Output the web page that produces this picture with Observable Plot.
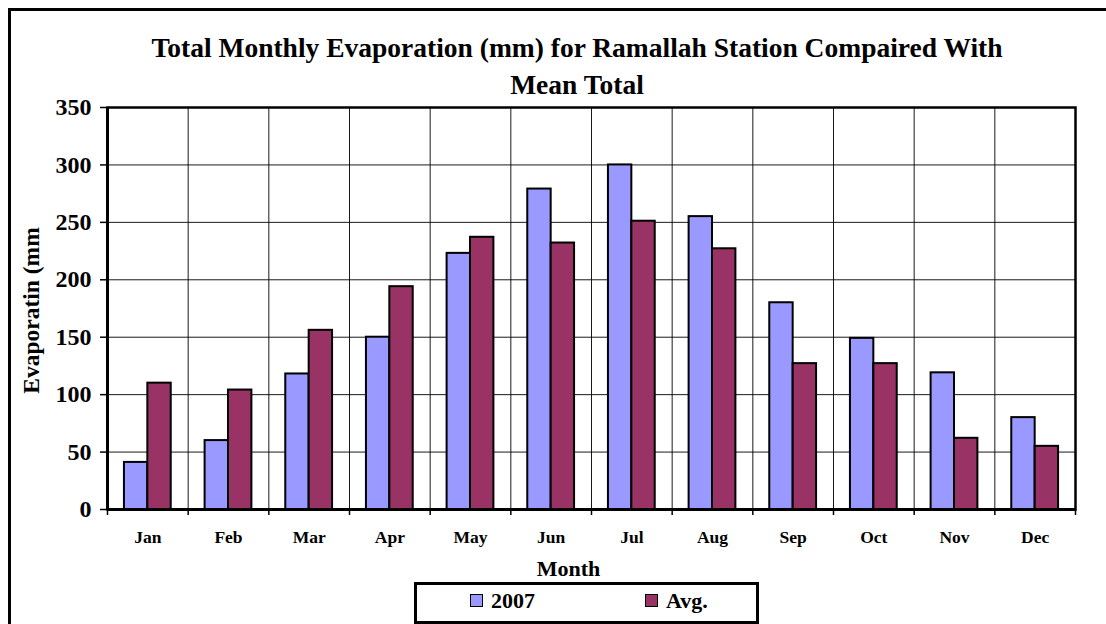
<!DOCTYPE html>
<html><head><meta charset="utf-8">
<script src="https://cdn.jsdelivr.net/npm/d3@7"></script>
<script src="https://cdn.jsdelivr.net/npm/@observablehq/plot@0.6"></script>
<style>
body{margin:0;background:#fff;overflow:hidden}
#wrap{position:relative;width:1106px;height:624px;overflow:hidden;font-family:"Liberation Serif","Times New Roman",serif;font-weight:bold;color:#000}
#border{position:absolute;left:8px;top:8px;width:1300px;height:800px;border:3px solid #000;box-sizing:border-box}
#title{position:absolute;left:0;width:1154px;top:29px;text-align:center;font-size:27.5px;line-height:37px}
#chart{position:absolute;left:0;top:95px}
#legend{position:absolute;left:414px;top:582px;width:345px;height:42px;border:3px solid #000;box-sizing:border-box;font-size:22px}
.sw{position:absolute;top:9px;width:11px;height:11px;border:1.5px solid #000}
.lt{position:absolute;top:4px;line-height:24px}
</style>
</head><body>
<div id="wrap">
  <div id="border"></div>
  <div id="title">Total Monthly Evaporation (mm) for Ramallah Station Compaired With<br>Mean Total</div>
  <div id="chart"></div>
  <div id="legend">
    <div class="sw" style="left:53px;background:#9999ff"></div><div class="lt" style="left:74px">2007</div>
    <div class="sw" style="left:228px;background:#993366"></div><div class="lt" style="left:249px">Avg.</div>
  </div>
</div>
<script>
const months = ["Jan","Feb","Mar","Apr","May","Jun","Jul","Aug","Sep","Oct","Nov","Dec"];
const evap2007 = [41,60,118,150,223,279,300,255,180,149,119,80];
const evapAvg = [110,104,156,194,237,232,251,227,127,127,62,55];
const yTicks = [0,50,100,150,200,250,300,350];
const seriesNames = ["2007","Avg."];
const seriesColors = ["#9999ff","#993366"];

// layout of the two bars inside each month slot (fractions of one month)
const groupStart = 0.21, barW = 0.29;

const rows = [];
months.forEach((m,i)=>{
  rows.push({i, m, s:0, v:evap2007[i]});
  rows.push({i, m, s:1, v:evapAvg[i]});
});

const plot = Plot.plot({
  width: 1106, height: 500,
  marginLeft: 107, marginRight: 31, marginTop: 12, marginBottom: 86,
  style: {fontFamily: '"Liberation Serif","Times New Roman",serif', fontWeight: "bold", color: "#000", background: "transparent"},
  x: {type: "linear", domain: [0, 12], axis: null},
  y: {domain: [0, 350], axis: null},
  marks: [
    Plot.gridY(yTicks.filter(t => t > 0 && t < 350), {stroke: "#000", strokeOpacity: 0.9, strokeWidth: 1}),
    Plot.gridX(d3.range(1, 12), {stroke: "#000", strokeOpacity: 0.9, strokeWidth: 1}),
    Plot.rectY(rows, {
      x1: d => d.i + groupStart + d.s * barW,
      x2: d => d.i + groupStart + (d.s + 1) * barW,
      y1: d => 0, y2: "v",
      fill: d => seriesColors[d.s],
      stroke: "#000", strokeWidth: 2
    }),
    Plot.frame({stroke: "#000", strokeWidth: 2.5}),
    Plot.ruleY([0], {stroke: "#000", strokeWidth: 3}),
    Plot.ruleX([0], {stroke: "#000", strokeWidth: 3}),
    Plot.axisY(yTicks, {tickSize: 7, tickPadding: 9, fontSize: 24, fontWeight: "bold", label: null, stroke: "#000", strokeWidth: 1.5}),
    Plot.axisX(d3.range(13), {tickSize: 6, tickFormat: () => "", label: null, stroke: "#000", strokeWidth: 1.5}),
    Plot.axisX(months.map((m, i) => i + 0.5), {tickSize: 0, tickPadding: 21, tickFormat: v => months[Math.floor(v)], fontSize: 17.5, fontWeight: "bold", label: null}),
    Plot.text(["Evaporatin (mm"], {frameAnchor: "left", textAnchor: "middle", lineAnchor: "middle", rotate: -90, dx: -76, dy: 2, fontSize: 23.5, fontWeight: "bold"}),
    Plot.text(["Month"], {frameAnchor: "bottom", textAnchor: "middle", lineAnchor: "middle", dx: -23, dy: 59, fontSize: 22, fontWeight: "bold"})
  ]
});
document.getElementById("chart").appendChild(plot);
</script>
</body></html>
